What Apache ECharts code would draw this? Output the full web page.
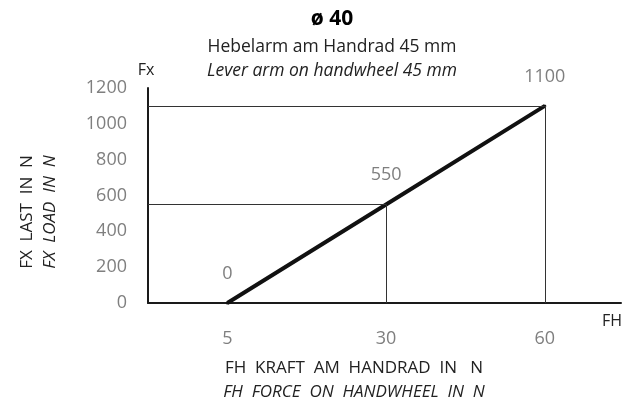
<!DOCTYPE html>
<html>
<head>
<meta charset="utf-8">
<script src="https://cdn.jsdelivr.net/npm/echarts@6/dist/echarts.min.js"></script>
<style>
  html, body { margin: 0; padding: 0; background: #fff; }
  #chart { width: 624px; height: 401px; }
</style>
</head>
<body>
<div id="chart"></div>
<script>
// FH force on handwheel (category labels) and Fx load values
const forceLabels = ['5', '30', '60']
const loadValues = [0, 550, 1100]
// slot of each category on the x axis
const xSlots = [1, 3, 5]

const yTicks = { min: 0, max: 1200, interval: 200 }

const FONT = '"Open Sans", sans-serif'
const GRAY = '#7f7f7f'
const INK = '#222'

const chart = echarts.init(document.getElementById('chart'))

const lineData = xSlots.map((x, i) => [x, loadValues[i]])

// helper lines: from y axis to point and from point down to x axis
const guides = []
xSlots.forEach((x, i) => {
  if (loadValues[i] === 0) return
  guides.push([{ coord: [0, loadValues[i]] }, { coord: [x, loadValues[i]] }])
  guides.push([{ coord: [x, 0] }, { coord: [x, loadValues[i]] }])
})

const txt = (text, left, top, size, extra) => ({
  text,
  left,
  top,
  textAlign: 'center',
  textStyle: Object.assign(
    { fontFamily: FONT, fontSize: size, fontWeight: 'normal', color: INK },
    extra || {}
  )
})

const option = {
  animation: false,
  backgroundColor: '#fff',
  title: [
    txt('ø 40', 327, 4, 21, { fontWeight: 'bold', color: '#000' }),
    txt('Hebelarm am Handrad 45 mm', 327, 33, 17.5),
    txt('Lever arm on handwheel 45 mm', 327, 57, 17.5, { fontStyle: 'italic' }),
    txt('Fx', 141, 57, 16),
    txt('FH', 607, 308, 16),
    txt('FH  KRAFT  AM  HANDRAD  IN   N', 349, 355, 17),
    txt('FH  FORCE  ON  HANDWHEEL  IN  N', 349, 379, 17, { fontStyle: 'italic' })
  ],
  grid: {
    left: 148,
    right: 0,
    top: 88,
    bottom: 98,
    containLabel: false
  },
  xAxis: {
    type: 'value',
    min: 0,
    max: 5.96,
    interval: 1,
    splitLine: { show: false },
    axisTick: { show: false },
    axisLine: { show: true, lineStyle: { color: '#1a1a1a', width: 2 } },
    axisLabel: {
      margin: 27,
      fontFamily: FONT,
      fontSize: 18,
      color: GRAY,
      formatter: (v) => {
        const i = xSlots.indexOf(v)
        return i >= 0 ? forceLabels[i] : ''
      }
    }
  },
  yAxis: {
    type: 'value',
    min: yTicks.min,
    max: yTicks.max,
    interval: yTicks.interval,
    splitLine: { show: false },
    axisTick: { show: false },
    axisLine: { show: true, lineStyle: { color: '#1a1a1a', width: 2 } },
    axisLabel: {
      margin: 21,
      fontFamily: FONT,
      fontSize: 18,
      color: GRAY,
      formatter: (v) => String(v)
    },
    name: '{a|FX  LAST  IN  N}\n{b|FX  LOAD  IN  N}',
    nameLocation: 'middle',
    nameRotate: 90,
    nameGap: 86,
    nameTextStyle: {
      padding: [0, 33, 0, 0],
      rich: {
        a: { fontFamily: FONT, fontSize: 17, color: INK, lineHeight: 23 },
        b: { fontFamily: FONT, fontSize: 17, color: INK, fontStyle: 'italic', lineHeight: 23 }
      }
    }
  },
  series: [
    {
      type: 'line',
      data: lineData,
      showSymbol: true,
      symbol: 'circle',
      symbolSize: 3,
      itemStyle: { color: '#111' },
      lineStyle: { color: '#111', width: 4 },
      label: {
        show: true,
        position: 'top',
        distance: 19,
        fontFamily: FONT,
        fontSize: 18,
        color: GRAY,
        formatter: (p) => String(p.value[1])
      },
      markLine: {
        silent: true,
        animation: false,
        symbol: ['none', 'none'],
        label: { show: false },
        lineStyle: { color: '#333', type: 'solid', width: 1 },
        data: guides
      },
      z: 3
    }
  ]
}

chart.setOption(option)
</script>
</body>
</html>
